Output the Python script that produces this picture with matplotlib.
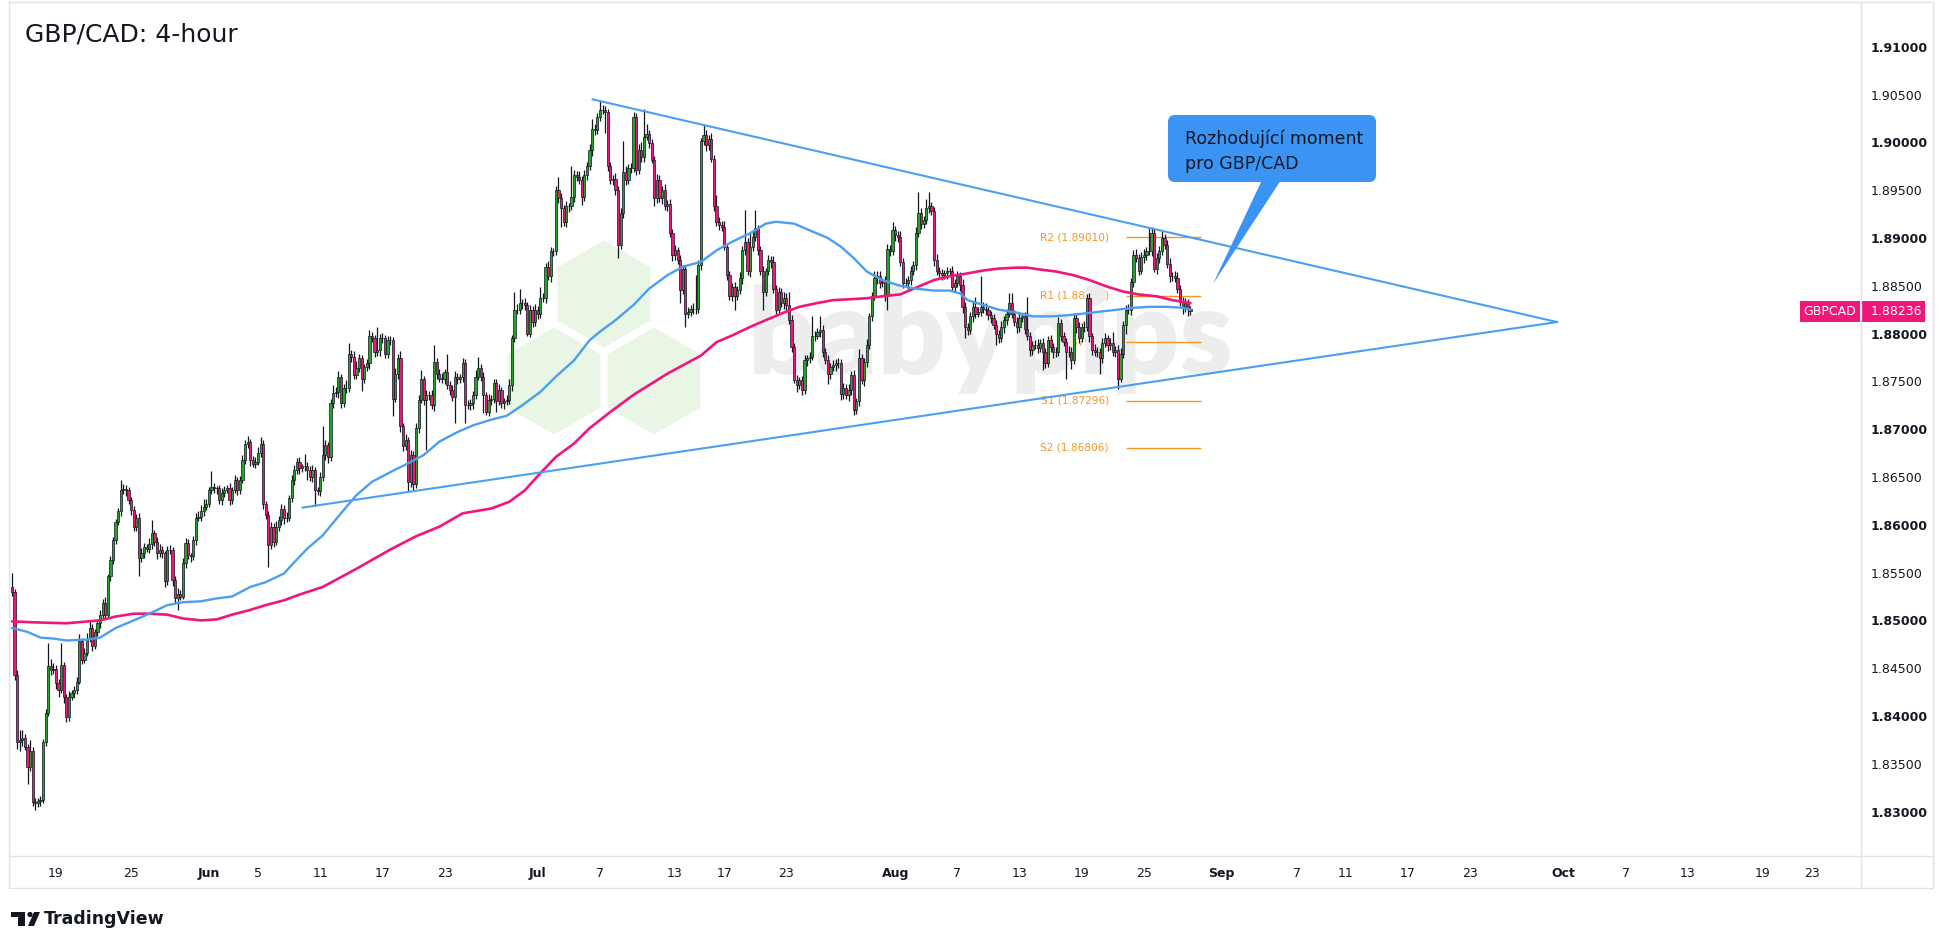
import numpy as np
import pandas as pd
import matplotlib
matplotlib.use("Agg")
import matplotlib.pyplot as plt
from matplotlib.patches import Rectangle, RegularPolygon, FancyBboxPatch, Polygon
from matplotlib.lines import Line2D
from matplotlib.transforms import Affine2D, blended_transform_factory

plt.rcParams['font.family'] = ['DejaVu Sans']

W, H = 1940, 948

# --- data (4h bars, open = previous close) ---
first_bar = "2025-05-14 07:00"
first_open = 1.8535
closes = [
    1.8530, 1.8443, 1.8373, 1.8375, 1.8377, 1.8368, 1.8347, 1.8363, 1.8310, 1.8309, 1.8311, 1.8312, 1.8373, 1.8403, 1.8452, 1.8448, 1.8449, 1.8434, 1.8427, 1.8453,
    1.8420, 1.8399, 1.8420, 1.8424, 1.8427, 1.8436, 1.8478, 1.8459, 1.8466, 1.8481, 1.8492, 1.8473, 1.8488, 1.8497, 1.8506, 1.8518, 1.8506, 1.8546, 1.8563, 1.8584,
    1.8603, 1.8614, 1.8636, 1.8637, 1.8636, 1.8626, 1.8615, 1.8598, 1.8607, 1.8565, 1.8570, 1.8577, 1.8575, 1.8580, 1.8591, 1.8582, 1.8570, 1.8574, 1.8570, 1.8541,
    1.8574, 1.8574, 1.8542, 1.8523, 1.8528, 1.8525, 1.8560, 1.8581, 1.8568, 1.8567, 1.8584, 1.8607, 1.8608, 1.8614, 1.8619, 1.8622, 1.8636, 1.8640, 1.8638, 1.8638,
    1.8626, 1.8633, 1.8636, 1.8638, 1.8626, 1.8636, 1.8647, 1.8636, 1.8647, 1.8668, 1.8685, 1.8687, 1.8668, 1.8664, 1.8666, 1.8675, 1.8685, 1.8622, 1.8610, 1.8579,
    1.8598, 1.8582, 1.8598, 1.8605, 1.8617, 1.8607, 1.8607, 1.8628, 1.8647, 1.8657, 1.8666, 1.8659, 1.8661, 1.8662, 1.8657, 1.8650, 1.8657, 1.8636, 1.8635, 1.8650,
    1.8673, 1.8683, 1.8671, 1.8727, 1.8738, 1.8739, 1.8755, 1.8727, 1.8743, 1.8743, 1.8779, 1.8776, 1.8757, 1.8764, 1.8774, 1.8753, 1.8765, 1.8769, 1.8797, 1.8795,
    1.8781, 1.8783, 1.8795, 1.8795, 1.8779, 1.8793, 1.8793, 1.8732, 1.8758, 1.8774, 1.8703, 1.8682, 1.8689, 1.8645, 1.8673, 1.8643, 1.8701, 1.8731, 1.8752, 1.8731,
    1.8736, 1.8736, 1.8725, 1.8770, 1.8758, 1.8753, 1.8753, 1.8760, 1.8746, 1.8741, 1.8734, 1.8755, 1.8752, 1.8755, 1.8769, 1.8725, 1.8725, 1.8727, 1.8736, 1.8755,
    1.8764, 1.8755, 1.8736, 1.8718, 1.8731, 1.8732, 1.8748, 1.8729, 1.8741, 1.8727, 1.8729, 1.8731, 1.8746, 1.8795, 1.8825, 1.8825, 1.8832, 1.8832, 1.8830, 1.8800,
    1.8825, 1.8812, 1.8825, 1.8821, 1.8837, 1.8837, 1.8870, 1.8860, 1.8886, 1.8886, 1.8950, 1.8942, 1.8931, 1.8917, 1.8933, 1.8933, 1.8943, 1.8966, 1.8964, 1.8961,
    1.8943, 1.8966, 1.8975, 1.8992, 1.9014, 1.9013, 1.9027, 1.9034, 1.9034, 1.9032, 1.8975, 1.8961, 1.8962, 1.8950, 1.8893, 1.8926, 1.8969, 1.8961, 1.8973, 1.8973,
    1.9027, 1.8971, 1.8992, 1.8985, 1.9006, 1.9009, 1.8999, 1.8982, 1.8942, 1.8961, 1.8942, 1.8950, 1.8933, 1.8936, 1.8905, 1.8882, 1.8887, 1.8877, 1.8846, 1.8868,
    1.8820, 1.8823, 1.8826, 1.8826, 1.8826, 1.8872, 1.9001, 1.9008, 1.8997, 1.9004, 1.8983, 1.8933, 1.8917, 1.8914, 1.8912, 1.8891, 1.8861, 1.8839, 1.8849, 1.8839,
    1.8846, 1.8858, 1.8887, 1.8896, 1.8865, 1.8891, 1.8901, 1.8910, 1.8887, 1.8865, 1.8844, 1.8865, 1.8877, 1.8875, 1.8847, 1.8825, 1.8844, 1.8832, 1.8837, 1.8830,
    1.8814, 1.8786, 1.8751, 1.8746, 1.8751, 1.8741, 1.8772, 1.8774, 1.8776, 1.8797, 1.8798, 1.8802, 1.8804, 1.8781, 1.8772, 1.8758, 1.8765, 1.8767, 1.8769, 1.8769,
    1.8737, 1.8743, 1.8736, 1.8741, 1.8757, 1.8720, 1.8729, 1.8774, 1.8751, 1.8770, 1.8788, 1.8818, 1.8839, 1.8858, 1.8860, 1.8853, 1.8854, 1.8839, 1.8889, 1.8886,
    1.8908, 1.8903, 1.8901, 1.8875, 1.8853, 1.8853, 1.8856, 1.8865, 1.8872, 1.8905, 1.8926, 1.8915, 1.8919, 1.8931, 1.8933, 1.8928, 1.8877, 1.8866, 1.8863, 1.8861,
    1.8863, 1.8865, 1.8865, 1.8849, 1.8853, 1.8860, 1.8851, 1.8828, 1.8807, 1.8804, 1.8818, 1.8828, 1.8821, 1.8823, 1.8828, 1.8826, 1.8825, 1.8819, 1.8816, 1.8809,
    1.8800, 1.8795, 1.8807, 1.8814, 1.8821, 1.8832, 1.8821, 1.8812, 1.8807, 1.8816, 1.8818, 1.8805, 1.8797, 1.8783, 1.8788, 1.8788, 1.8785, 1.8790, 1.8781, 1.8769,
    1.8793, 1.8786, 1.8781, 1.8781, 1.8811, 1.8797, 1.8791, 1.8781, 1.8781, 1.8772, 1.8816, 1.8807, 1.8795, 1.8807, 1.8807, 1.8837, 1.8797, 1.8783, 1.8781, 1.8781,
    1.8774, 1.8790, 1.8795, 1.8788, 1.8790, 1.8781, 1.8783, 1.8753, 1.8779, 1.8809, 1.8825, 1.8825, 1.8854, 1.8882, 1.8879, 1.8866, 1.8880, 1.8882, 1.8886, 1.8886,
    1.8905, 1.8868, 1.8879, 1.8886, 1.8900, 1.8893, 1.8873, 1.8860, 1.8860, 1.8858, 1.8847, 1.8833, 1.8828, 1.8833, 1.8826, 1.88236,
]
# wick length beyond the body, in pips
upper_wick = [
    15, 3, 5, 10, 8, 4, 3, 12, 5, 4, 3, 4, 3, 4, 24, 8, 6, 4, 5, 23,
    4, 3, 6, 3, 4, 5, 8, 4, 5, 6, 8, 4, 3, 4, 5, 4, 6, 3, 4, 3,
    3, 4, 11, 6, 5, 4, 3, 5, 4, 5, 6, 4, 3, 6, 14, 4, 5, 6, 4, 3,
    4, 5, 3, 4, 6, 4, 5, 5, 4, 3, 4, 5, 6, 7, 8, 5, 4, 16, 4, 3,
    4, 5, 5, 4, 6, 4, 5, 3, 4, 5, 4, 6, 3, 4, 5, 6, 7, 4, 3, 4,
    5, 4, 6, 4, 5, 4, 6, 3, 5, 6, 4, 5, 3, 12, 4, 5, 6, 3, 4, 5,
    30, 6, 4, 5, 8, 5, 6, 3, 4, 8, 11, 4, 6, 7, 5, 4, 3, 4, 7, 5,
    4, 24, 5, 6, 4, 5, 4, 3, 6, 5, 8, 4, 6, 3, 5, 4, 6, 5, 10, 4,
    5, 4, 5, 18, 4, 5, 6, 3, 19, 4, 5, 6, 4, 3, 5, 4, 6, 5, 4, 7,
    12, 4, 5, 3, 6, 4, 5, 4, 6, 3, 4, 5, 6, 4, 19, 6, 15, 4, 5, 3,
    5, 4, 6, 4, 12, 5, 4, 6, 5, 4, 4, 14, 5, 4, 6, 4, 32, 5, 4, 6,
    4, 5, 4, 6, 10, 5, 4, 9, 5, 4, 3, 5, 4, 6, 4, 5, 32, 6, 4, 5,
    5, 4, 6, 8, 29, 10, 4, 5, 4, 6, 5, 4, 6, 4, 5, 4, 6, 4, 5, 4,
    4, 5, 4, 6, 35, 5, 4, 10, 5, 4, 6, 4, 12, 5, 4, 6, 4, 5, 4, 5,
    4, 6, 5, 33, 4, 14, 5, 19, 4, 5, 6, 4, 5, 4, 6, 4, 5, 4, 6, 5,
    14, 5, 4, 6, 4, 5, 6, 4, 5, 21, 5, 4, 14, 5, 4, 6, 4, 5, 4, 6,
    4, 5, 4, 6, 4, 5, 4, 10, 5, 4, 6, 4, 5, 8, 6, 5, 4, 6, 5, 4,
    9, 5, 4, 6, 4, 5, 4, 6, 4, 6, 22, 5, 4, 10, 15, 5, 4, 6, 4, 5,
    4, 5, 4, 6, 4, 5, 4, 6, 5, 4, 5, 6, 10, 5, 32, 5, 6, 4, 5, 4,
    5, 4, 6, 4, 5, 10, 10, 4, 5, 6, 4, 5, 33, 5, 4, 5, 6, 4, 5, 4,
    5, 6, 4, 5, 6, 4, 5, 4, 6, 5, 6, 4, 5, 4, 6, 4, 5, 4, 6, 5,
    4, 5, 6, 4, 5, 12, 4, 5, 6, 4, 5, 6, 4, 5, 6, 4, 5, 6, 5, 24,
    7, 4, 5, 6, 7, 4, 5, 6, 4, 5, 6, 4, 5, 4, 3, 3,
]
lower_wick = [
    4, 5, 8, 10, 6, 4, 18, 5, 4, 7, 4, 5, 3, 4, 3, 5, 4, 6, 7, 3,
    6, 5, 4, 3, 5, 4, 3, 5, 4, 3, 4, 5, 3, 4, 5, 4, 3, 4, 5, 4,
    4, 3, 5, 4, 6, 4, 5, 4, 5, 19, 4, 5, 3, 4, 5, 4, 6, 4, 5, 6,
    4, 5, 6, 5, 12, 4, 3, 5, 4, 6, 4, 5, 3, 4, 5, 4, 3, 4, 5, 6,
    4, 5, 4, 3, 5, 4, 3, 5, 4, 3, 4, 5, 6, 4, 5, 3, 4, 5, 4, 23,
    4, 5, 3, 4, 5, 6, 4, 3, 4, 5, 4, 6, 4, 5, 10, 4, 5, 16, 4, 5,
    4, 5, 6, 4, 5, 4, 6, 5, 4, 5, 4, 6, 4, 5, 4, 13, 5, 4, 6, 4,
    5, 4, 6, 5, 4, 5, 5, 18, 4, 5, 6, 5, 4, 10, 5, 8, 4, 5, 4, 6,
    53, 5, 4, 6, 5, 4, 5, 6, 4, 5, 4, 27, 5, 4, 6, 19, 4, 5, 6, 4,
    4, 5, 19, 3, 4, 6, 5, 11, 4, 5, 6, 4, 5, 6, 4, 5, 4, 6, 5, 3,
    4, 5, 4, 6, 5, 4, 5, 4, 6, 5, 4, 5, 19, 4, 5, 6, 4, 5, 4, 5,
    8, 4, 5, 4, 6, 5, 4, 5, 4, 22, 5, 4, 6, 5, 14, 4, 5, 6, 4, 5,
    4, 5, 4, 6, 5, 4, 5, 4, 9, 5, 4, 6, 4, 5, 4, 6, 5, 4, 14, 5,
    13, 4, 5, 6, 5, 4, 5, 4, 6, 5, 4, 5, 4, 6, 5, 4, 5, 4, 5, 14,
    4, 5, 6, 5, 4, 6, 5, 4, 5, 4, 19, 5, 4, 6, 5, 4, 5, 4, 6, 5,
    4, 5, 3, 7, 4, 5, 4, 6, 5, 4, 5, 4, 6, 5, 4, 11, 5, 4, 6, 5,
    6, 5, 4, 6, 5, 5, 4, 5, 4, 6, 5, 4, 5, 4, 6, 5, 4, 5, 14, 5,
    4, 6, 5, 4, 5, 4, 6, 5, 4, 5, 4, 6, 5, 4, 5, 4, 6, 5, 4, 5,
    4, 6, 5, 4, 5, 4, 6, 6, 12, 5, 4, 6, 5, 4, 5, 4, 6, 5, 5, 4,
    12, 5, 4, 6, 5, 4, 5, 4, 6, 5, 4, 5, 4, 6, 5, 4, 5, 4, 19, 5,
    4, 5, 6, 5, 4, 5, 4, 28, 5, 9, 4, 6, 5, 4, 5, 4, 6, 5, 4, 5,
    16, 5, 4, 6, 5, 4, 5, 11, 4, 4, 9, 4, 6, 5, 4, 5, 4, 6, 5, 4,
    5, 4, 6, 5, 4, 5, 4, 6, 5, 4, 5, 4, 7, 5, 8, 4,
]
symbol = "GBPCAD"

# moving averages, sampled along the curve (bar number, price)
ma_fast_bar = [0, 6, 11, 16, 21, 29, 34, 40, 47, 53, 60, 66, 73, 79, 85, 92, 98, 105, 108, 114,
               120, 127, 133, 139, 146, 152, 159, 165, 172, 178, 185, 191, 197, 204, 210, 217, 223, 227, 233, 240,
               246, 253, 259, 266, 272, 278, 285, 291, 295, 302, 308, 315, 320, 325, 330, 336, 343, 349, 356, 362,
               366, 369, 375, 381, 388, 394, 401, 407, 414, 420, 427, 433, 439, 446, 452, 455]
ma_fast = [1.8492, 1.8488, 1.8482, 1.8481, 1.8479, 1.8480, 1.8482, 1.8492, 1.8500, 1.8507,
           1.8516, 1.8519, 1.8520, 1.8523, 1.8525, 1.8535, 1.8540, 1.8549, 1.8558, 1.8575,
           1.8589, 1.8612, 1.8631, 1.8645, 1.8655, 1.8663, 1.8673, 1.8687, 1.8697, 1.8704,
           1.8710, 1.8714, 1.8725, 1.8739, 1.8755, 1.8772, 1.8793, 1.8802, 1.8814, 1.8830,
           1.8847, 1.8861, 1.8870, 1.8875, 1.8887, 1.8896, 1.8905, 1.8915, 1.8917, 1.8915,
           1.8908, 1.8900, 1.8891, 1.8879, 1.8865, 1.8856, 1.8850, 1.8847, 1.8845, 1.8845,
           1.8842, 1.8835, 1.8830, 1.8825, 1.8822, 1.8818, 1.8818, 1.8819, 1.8821, 1.8823,
           1.8825, 1.8827, 1.8828, 1.8828, 1.8827, 1.8825]
ma_slow_bar = [0, 8, 21, 34, 40, 47, 53, 60, 66, 73, 79, 85, 92, 98, 105, 111, 120, 133, 146, 156,
               165, 174, 185, 192, 198, 204, 210, 217, 223, 231, 240, 253, 266, 272, 278, 285, 291, 298, 304, 311,
               317, 324, 330, 336, 343, 349, 356, 362, 369, 375, 381, 388, 392, 397, 403, 410, 416, 423, 429, 435,
               442, 448, 455]
ma_slow = [1.8499, 1.8498, 1.8497, 1.8500, 1.8504, 1.8507, 1.8507, 1.8506, 1.8502, 1.8500,
           1.8501, 1.8506, 1.8511, 1.8516, 1.8521, 1.8527, 1.8535, 1.8554, 1.8574, 1.8588,
           1.8598, 1.8612, 1.8617, 1.8624, 1.8636, 1.8654, 1.8671, 1.8685, 1.8701, 1.8718,
           1.8736, 1.8758, 1.8777, 1.8791, 1.8798, 1.8807, 1.8814, 1.8822, 1.8828, 1.8832,
           1.8835, 1.8836, 1.8837, 1.8839, 1.8841, 1.8848, 1.8856, 1.8860, 1.8863, 1.8866,
           1.8868, 1.8869, 1.8869, 1.8867, 1.8865, 1.8861, 1.8856, 1.8849, 1.8844, 1.8841,
           1.8839, 1.8835, 1.8832]

# triangle trend lines (bar number, price)
upper_trend_bar = [224.2, 596.5]
upper_trend = [1.9045, 1.88121]
lower_trend_bar = [112.2, 596.5]
lower_trend = [1.8618, 1.88121]

pivot_names = ["R2", "R1", "P", "S1", "S2"]
pivot_levels = [1.89010, 1.88398, 1.87908, 1.87296, 1.86806]
pivot_span = [430, 459]

tick_dates = ["2025-05-19", "2025-05-25", "2025-06-01", "2025-06-05", "2025-06-11", "2025-06-17",
              "2025-06-23", "2025-07-01", "2025-07-07", "2025-07-13", "2025-07-17", "2025-07-23",
              "2025-08-01", "2025-08-07", "2025-08-13", "2025-08-19", "2025-08-25", "2025-09-01",
              "2025-09-07", "2025-09-11", "2025-09-17", "2025-09-23", "2025-10-01", "2025-10-07",
              "2025-10-13", "2025-10-19", "2025-10-23"]
tick_texts = ["19", "25", "Jun", "5", "11", "17", "23", "Jul", "7", "13", "17", "23", "Aug", "7",
              "13", "19", "25", "Sep", "7", "11", "17", "23", "Oct", "7", "13", "19", "23"]

title = "GBP/CAD: 4-hour"
note = "Rozhodující moment\npro GBP/CAD"

# --- colours ---
GREEN = "#25a525"
PINK = "#f0167c"
BLUE = "#4a9ff0"
ORANGE = "#f7951e"
INK = "#131722"
FRAME = "#e0e3eb"

# forex calendar: Sunday 23:00 open, Friday 19:00 last bar
rng = pd.date_range(first_bar, "2025-11-01", freq="4h")
keep = (~((rng.weekday == 4) & (rng.hour == 23)) & (rng.weekday != 5)
        & ~((rng.weekday == 6) & (rng.hour < 23)))
times = rng[keep]
tick_pos = times.searchsorted(pd.to_datetime(tick_dates))

close = np.array(closes)
open_ = np.r_[first_open, close[:-1]]
high = np.maximum(open_, close) + np.array(upper_wick) * 1e-4
low = np.minimum(open_, close) - np.array(lower_wick) * 1e-4
x = np.arange(len(close))
up = close >= open_

fig = plt.figure(figsize=(W / 100, H / 100), dpi=100)
fig.patch.set_facecolor("white")
pix = Affine2D().scale(1 / W, -1 / H).translate(0, 1) + fig.transFigure

ax = fig.add_axes([9 / W, (H - 856) / H, (1861 - 9) / W, (856 - 2) / H])
ax.set_xlim(-1.15, 713.9)
ax.set_ylim(1.825356, 1.914686)
for s in ax.spines.values():
    s.set_visible(False)

# watermark: three pale hexagons + "babypips"
for cx, cy in [(604, 294), (554, 381), (654, 381)]:
    ax.add_patch(RegularPolygon((cx, cy), 6, radius=53.5, transform=pix,
                                facecolor="#e9f5e5", edgecolor="none", zorder=1, clip_on=False))
ax.text(991, 374, "babypips", transform=pix, fontsize=86, family="Lato", fontweight="heavy",
        color="#ededed", ha="center", va="baseline", zorder=1.5)

# pivot levels
for name, lvl in zip(pivot_names, pivot_levels):
    ax.plot(pivot_span, [lvl, lvl], color=ORANGE, lw=1.0, zorder=1.8, solid_capstyle="butt")
    ax.text(pivot_span[0] - 6.5, lvl, f"{name} ({lvl:.5f})", color=ORANGE, fontsize=7.6,
            ha="right", va="center", zorder=1.2)

# candles
ax.vlines(x, low, high, color=INK, lw=0.9, zorder=3)
body = np.maximum(np.abs(close - open_), 1.5e-5)
ax.bar(x, body, bottom=np.minimum(open_, close), width=0.85,
       color=np.where(up, GREEN, PINK), edgecolor=INK, linewidth=0.5, zorder=4)

# moving averages
ax.plot(ma_slow_bar, ma_slow, color=PINK, lw=1.9, zorder=5, solid_capstyle="round")
ax.plot(ma_fast_bar, ma_fast, color=BLUE, lw=1.7, zorder=5, solid_capstyle="round")

# triangle
ax.plot(upper_trend_bar, upper_trend, color=BLUE, lw=1.5, zorder=6)
ax.plot(lower_trend_bar, lower_trend, color=BLUE, lw=1.5, zorder=6)

# axes ticks
yt = np.round(np.arange(1.83, 1.9101, 0.005), 3)
ax.yaxis.tick_right()
ax.set_yticks(yt, [f"{v:.5f}" for v in yt])
for lab, v in zip(ax.get_yticklabels(), yt):
    if int(round(v * 1000)) % 10 == 0:
        lab.set_fontweight("bold")
ax.tick_params(axis="y", length=0, pad=7, labelsize=9, labelcolor=INK)
ax.set_xticks(tick_pos, tick_texts)
for lab in ax.get_xticklabels():
    if not lab.get_text().isdigit():
        lab.set_fontweight("bold")
ax.tick_params(axis="x", length=0, pad=8, labelsize=9, labelcolor=INK)

# last price tags
bt = blended_transform_factory(ax.transAxes, ax.transData)
hh = 21 / 9560
aw = 1852
ax.add_patch(Rectangle((1.0, close[-1] - hh / 2), 64 / aw, hh, transform=bt,
                       facecolor=PINK, edgecolor="none", zorder=10, clip_on=False))
ax.add_patch(Rectangle((1791 / aw, close[-1] - hh / 2), 60 / aw, hh, transform=bt,
                       facecolor=PINK, edgecolor="none", zorder=10, clip_on=False))
ax.text(1862 / aw, close[-1], f"{close[-1]:.5f}", transform=bt, color="white", fontsize=9,
        ha="left", va="center", zorder=11, clip_on=False)
ax.text(1821 / aw, close[-1], symbol, transform=bt, color="white", fontsize=9,
        ha="center", va="center", zorder=11, clip_on=False)

# callout
ax.add_patch(FancyBboxPatch((1168, 115), 208, 67, boxstyle="round,pad=0,rounding_size=7",
                            transform=pix, facecolor="#3b93f3", edgecolor="none", zorder=8, clip_on=False))
ax.add_patch(Polygon([(1262, 180), (1281, 180), (1213, 284)], closed=True, transform=pix,
                     facecolor="#3b93f3", edgecolor="none", zorder=8, clip_on=False))
for i, line in enumerate(note.split("\n")):
    ax.text(1185, 144 + 25 * i, line, transform=pix, fontsize=12.5, color=INK,
            ha="left", va="baseline", zorder=9, clip_on=False)

# frame
for xs, ys in [([9, 1933, 1933, 9, 9], [2, 2, 888, 888, 2]), ([9, 1933], [856, 856]), ([1861, 1861], [2, 888])]:
    fig.add_artist(Line2D(xs, ys, transform=pix, color=FRAME, lw=1.0))

fig.text(25, 42, title, transform=pix, fontsize=18, color=INK, ha="left", va="baseline")

# TradingView logo
fig.add_artist(Rectangle((11, 912), 14, 5, transform=pix, facecolor=INK, edgecolor="none"))
fig.add_artist(Rectangle((18, 912), 7, 14, transform=pix, facecolor=INK, edgecolor="none"))
fig.add_artist(plt.Circle((30, 914.5), 2.6, transform=pix, facecolor=INK, edgecolor="none"))
fig.add_artist(Polygon([(34, 912), (40, 912), (34, 926), (28, 926)], closed=True, transform=pix,
                       facecolor=INK, edgecolor="none"))
fig.text(44, 919, "TradingView", transform=pix, fontsize=12.5, fontweight="bold", color=INK,
         ha="left", va="center")

fig.savefig("out.png", dpi=100, facecolor="white")
